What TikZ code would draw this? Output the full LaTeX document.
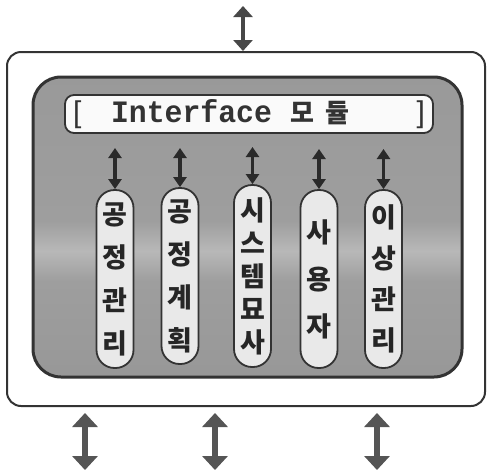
\documentclass[tikz,border=0pt]{standalone}
\usepackage{fontspec}
\newfontfamily\kr{Noto Sans CJK KR}
\newfontfamily\mono{Liberation Mono}
\newfontfamily\brk{Liberation Sans}
\usetikzlibrary{arrows.meta}
\definecolor{edge}{HTML}{333333}
\definecolor{panel}{HTML}{9E9E9E}
\definecolor{panellight}{HTML}{B8B8B8}
\definecolor{pillfill}{HTML}{E9E9E9}
\definecolor{arrowdark}{HTML}{2A2A2A}
\definecolor{arrowgray}{HTML}{555555}
\pgfdeclareverticalshading{panelshade}{100bp}{color(0bp)=(panel!96!black); color(25bp)=(panel!96!black); color(41bp)=(panel); color(46bp)=(panellight); color(51bp)=(panel); color(75bp)=(panel!97!black); color(100bp)=(panel!97!black)}
\tikzset{
  outerbox/.style={draw=edge, line width=2pt, rounded corners=14pt, fill=white, inner sep=0pt},
  panelbox/.style={draw=edge, line width=3pt, rounded corners=28pt, shading=panelshade, inner sep=0pt},
  ifacebox/.style={draw=edge, line width=1.8pt, rounded corners=9pt, fill=white!96!gray, inner sep=0pt},
  pill/.style={draw=edge, line width=1.8pt, rounded corners=18pt, fill=pillfill, inner sep=0pt,
    minimum width=37pt, align=center, text=black!85, font=\kr\bfseries\fontsize{27}{43}\selectfont},
  smallarrow/.style={{Triangle[width=13pt,length=10pt]}-{Triangle[width=13pt,length=10pt]}, line width=3.4pt, draw=arrowdark},
  toparrow/.style={{Triangle[width=19pt,length=11pt]}-{Triangle[width=19pt,length=11pt]}, line width=4pt, draw=arrowgray!85!black},
  botarrow/.style={{Triangle[width=25pt,length=14pt]}-{Triangle[width=25pt,length=14pt]}, line width=6.5pt, draw=arrowgray}
}
\begin{document}
\begin{tikzpicture}[x=1pt,y=-1pt]
\useasboundingbox (0,0) rectangle (488,472);
% boxes
\node[outerbox, minimum width=478pt, minimum height=354pt] (outer) at (246,229) {};
\node[panelbox, minimum width=429pt, minimum height=300pt] (panel) at (247.5,227) {};
\node[ifacebox, minimum width=368pt, minimum height=38pt, text width=352pt, align=left, text=black!80] (iface) at (249,114)
  {\makebox[38pt][l]{\brk\fontsize{30}{30}\selectfont[}\resizebox{161pt}{23pt}{\mono\bfseries Interface}\hspace{18pt}{\kr\bfseries\fontsize{26}{26}\selectfont 모\hspace{12pt}듈}\hfill{\brk\fontsize{30}{30}\selectfont]}};
% pills
\node[pill, minimum height=178pt] (p1) at (115,279) {공\\정\\관\\리};
\node[pill, minimum height=176pt] (p2) at (180,276) {공\\정\\계\\획};
\node[pill, minimum height=182pt, font=\kr\bfseries\fontsize{27}{33}\selectfont] (p3) at (252.5,276) {시\\스\\템\\묘\\사};
\node[pill, minimum height=178pt, font=\kr\bfseries\fontsize{27}{47}\selectfont] (p4) at (319,279) {사\\용\\자};
\node[pill, minimum height=178pt, font=\kr\bfseries\fontsize{27}{41}\selectfont] (p5) at (383.5,279) {이\\상\\관\\리};
% small arrows
\coordinate (a1) at (115,148);
\coordinate (a2) at (180,148);
\coordinate (a3) at (252.5,147);
\coordinate (a4) at (319,149);
\coordinate (a5) at (383.5,149);
\draw[smallarrow] (a1) -- (p1.north);
\draw[smallarrow] (a2) -- (p2.north);
\draw[smallarrow] (a3) -- (p3.north);
\draw[smallarrow] (a4) -- (p4.north);
\draw[smallarrow] (a5) -- (p5.north);
% top arrow
\coordinate (t) at (243,6);
\draw[toparrow] (t) -- (t |- outer.north);
% bottom arrows
\coordinate (b1) at (85,470);
\coordinate (b2) at (215,470);
\coordinate (b3) at (377,470);
\draw[botarrow] ([yshift=-6pt]b1 |- outer.south) -- (b1);
\draw[botarrow] ([yshift=-6pt]b2 |- outer.south) -- (b2);
\draw[botarrow] ([yshift=-6pt]b3 |- outer.south) -- (b3);
\end{tikzpicture}
\end{document}
